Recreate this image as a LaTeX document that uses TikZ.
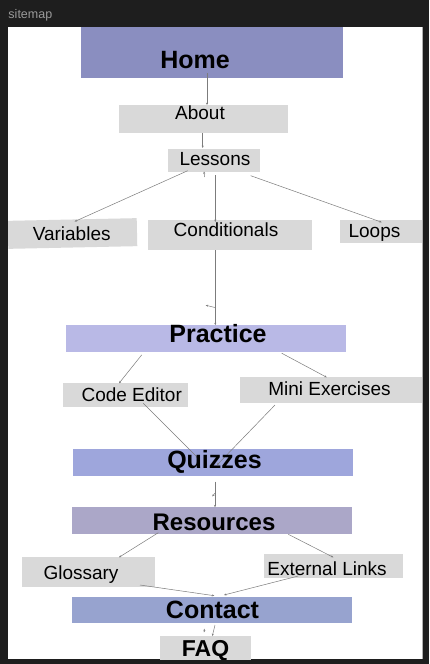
\documentclass[tikz,border=0pt]{standalone}
\usepackage{fontspec}
\setmainfont{Liberation Sans}
\usetikzlibrary{calc,arrows.meta}
\definecolor{frame}{HTML}{1E1E1E}
\definecolor{titlegray}{HTML}{9A9A9A}
\definecolor{pagegray}{HTML}{D9D9D9}
\definecolor{homecol}{HTML}{8A8EC0}
\definecolor{practicecol}{HTML}{B9B9E6}
\definecolor{quizcol}{HTML}{9EA6DC}
\definecolor{rescol}{HTML}{ABA7C8}
\definecolor{contactcol}{HTML}{97A3CF}
\definecolor{linegray}{HTML}{7C7C7C}
\begin{document}
\begin{tikzpicture}[x=1pt,y=-1pt,
  box/.style={rectangle,draw=none,inner sep=0pt,outer sep=0pt},
  page/.style={box,fill=pagegray},
  section/.style={box,fill=#1},
  wh/.style 2 args={minimum width=#1pt,minimum height=#2pt},
  lbl/.style={inner sep=0pt,anchor=base,font=\fontsize{19}{22}\selectfont},
  hdr/.style={inner sep=0pt,anchor=base,font=\bfseries\fontsize{25}{28}\selectfont},
  edge/.style={draw=linegray,line width=0.5pt,-{Stealth[length=2.4pt,width=2pt]}}]

% window frame
\fill[frame] (0,0) rectangle (429,664);
\useasboundingbox (0,0) rectangle (429,664);
\node[inner sep=0pt,anchor=base west,text=titlegray,font=\fontsize{12.5}{14}\selectfont] (title) at (8.3,18.5) {sitemap};

\begin{scope}
\clip (8,27) rectangle (422.7,659);
\fill[white] (8,27) rectangle (422.7,659);

% page boxes
\node[section=homecol,wh={262}{51}] (home) at (212,52.5) {};
\node[page,wh={169}{28}] (about) at (203.5,119) {};
\node[page,wh={92}{23}] (lessons) at (214,160.5) {};
\node[page,wh={129}{28},rotate=1.2] (variables) at (72.5,233.5) {};
\node[page,wh={164}{30}] (conditionals) at (230,235) {};
\node[page,wh={82}{23.5}] (loops) at (381,231.7) {};
\node[section=practicecol,wh={280}{27}] (practice) at (206,338.7) {};
\node[page,wh={125}{24}] (code) at (125,394.7) {};
\node[page,wh={182}{26}] (mini) at (331,390.3) {};
\node[section=quizcol,wh={280}{27}] (quizzes) at (213.3,462.5) {};
\node[section=rescol,wh={280}{27}] (resources) at (211.7,520.8) {};
\node[page,wh={133}{29.4}] (glossary) at (88.3,572) {};
\node[page,wh={139}{23.4}] (external) at (333,566) {};
\node[section=contactcol,wh={280}{26}] (contact) at (211.7,610.3) {};
\node[page,wh={91}{26}] (faq) at (205,649) {};

% connectors
\draw[edge] ($(home.south)+(-5,-5)$) -- ($(about.north)+(3.5,0)$);
\draw[edge] ($(about.south)+(-0.8,0)$) -- ($(lessons.north)+(-11.3,-1)$);
\draw[edge] ($(lessons.south)+(-26.3,-1.3)$) -- ($(variables.north)+(2.5,2)$);
\draw[edge] ($(lessons.south)+(36.7,3.7)$) -- ($(loops.north)+(0.7,2.3)$);
\draw[edge] ($(lessons.south)+(1.3,3)$) -- ($(conditionals.north)+(-14.7,2)$);
\draw[edge] ($(conditionals.south)+(-14.7,0)$) -- ($(practice.north)+(9.3,0)$);
\draw[edge] ($(practice.south)+(-64.3,2.7)$) -- ($(code.north)+(-6,0.6)$);
\draw[edge] ($(practice.south)+(75.7,1)$) -- ($(mini.north)+(-4.3,0)$);
\draw[edge] ($(code.south)+(18.3,-3.4)$) -- ($(quizzes.north)+(-15.3,9)$);
\draw[edge] ($(mini.south)+(-56,1.7)$) -- ($(quizzes.north)+(3.7,16)$);
\draw[edge] ($(quizzes.south)+(1.7,5.7)$) -- ($(resources.north)+(3.3,0)$);
\draw[edge] ($(resources.south)+(-53.4,-1.6)$) -- ($(glossary.north)+(30.7,0)$);
\draw[edge] ($(resources.south)+(76.6,0)$) -- ($(external.north)+(0.3,3)$);
\draw[edge] ($(glossary.south)+(51.7,-1.7)$) -- ($(contact.north)+(2.6,-1.6)$);
\draw[edge] ($(external.south)+(-34.7,-1.7)$) -- ($(contact.north)+(12.3,-2.3)$);
\draw[edge] ($(contact.south)+(3.3,1.7)$) -- ($(faq.north)+(7.3,0)$);

% short stray arrow stubs
\draw[edge] ($(lessons.south)+(-9.5,5)$) -- ($(lessons.south)+(-10,-0.5)$);
\draw[edge] ($(practice.north)+(9,-17.7)$) -- ($(practice.north)+(-0.3,-20)$);
\draw[edge] ($(resources.north)+(3.3,-14)$) -- ($(resources.north)+(0.5,-11)$);
\draw[edge] ($(contact.south)+(-7,5.5)$) -- ($(contact.south)+(-7.7,9)$);

% labels
\node[hdr] (homeT) at (195,68) {Home};
\node[lbl] (aboutT) at (200,119.5) {About};
\node[lbl] (lessonsT) at (215,165.7) {Lessons};
\node[lbl] (variablesT) at (71.7,240) {Variables};
\node[lbl] (conditionalsT) at (226,236) {Conditionals};
\node[lbl] (loopsT) at (374.5,237.7) {Loops};
\node[hdr] (practiceT) at (218,342.7) {Practice};
\node[lbl] (codeT) at (131.7,401) {Code Editor};
\node[lbl] (miniT) at (329.5,395) {Mini Exercises};
\node[hdr] (quizzesT) at (214.5,468) {Quizzes};
\node[hdr,font=\bfseries\fontsize{24}{27}\selectfont] (resourcesT) at (214,530) {Resources};
\node[lbl] (glossaryT) at (81,579.3) {Glossary};
\node[lbl] (externalT) at (327,575) {External Links};
\node[hdr] (contactT) at (212.5,618.3) {Contact};
\node[hdr,font=\bfseries\fontsize{23}{26}\selectfont] (faqT) at (205.5,656.7) {FAQ};
\end{scope}
\end{tikzpicture}
\end{document}
